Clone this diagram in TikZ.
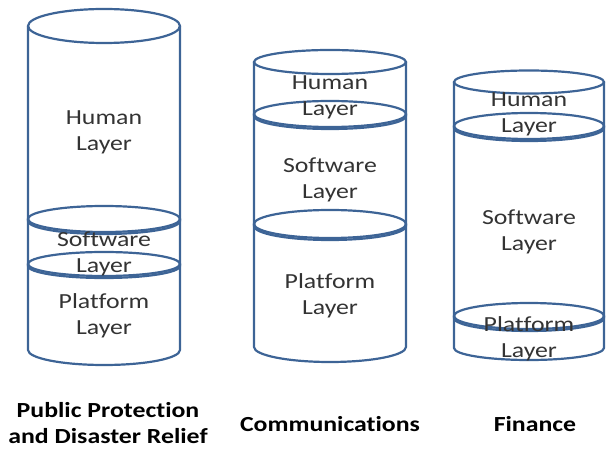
\documentclass[tikz,border=0pt]{standalone}
\usepackage{fontspec}
\setmainfont{Carlito}[FakeStretch=1.2, Ligatures=NoCommon]
\usepackage{tikz}
\definecolor{layerblue}{RGB}{61,100,150}
\tikzset{%
   layerline/.style={draw=layerblue, line width=2.2pt},
   layertext/.style={align=center, inner sep=0pt, text=black!80,
     font=\fontsize{21.5}{26}\selectfont},
   sector/.style={align=center, inner sep=0pt,
     font=\fontsize{21.5}{26}\selectfont\bfseries},
}
% one slice of a stack: cx, rx, top y, top ry, bottom y, bottom ry
\newcommand\layerpart[6]{%
  \draw[layerline] (#1,#3) ellipse [x radius=#2, y radius=#4];
  \draw[layerline] ({#1-#2},#3) -- ({#1-#2},#5)
    arc [start angle=180, end angle=360, x radius=#2, y radius=#6] -- ({#1+#2},#3);
}

\begin{document}
\begin{tikzpicture}[x=1pt, y=1pt]
      \useasboundingbox (0,0) rectangle (606,448);
      % public protection
      \layerpart{104}{76}{422}{17}{227}{13}
      \layerpart{104}{76}{229}{13}{182}{12}
      \layerpart{104}{76}{184}{12}{98}{15}
      \node[layertext] (h1) at (104,316) {Human\\Layer};
      \node[layertext] (s1) at (104,194) {Software\\Layer};
      \node[layertext] (p1) at (104,132) {Platform\\Layer};
      % communications
      \layerpart{330}{76}{386}{12}{332}{13}
      \layerpart{330}{76}{334}{13}{222}{14}
      \layerpart{330}{76}{224}{14}{101}{15}
      \node[layertext] (h2) at (330,351) {Human\\Layer};
      \node[layertext] (s2) at (330,268) {Software\\Layer};
      \node[layertext] (p2) at (330,152) {Platform\\Layer};
      % finance
      \layerpart{529}{75}{366}{11.5}{320}{13}
      \layerpart{529}{75}{322}{13}{130}{13}
      \layerpart{529}{75}{132}{13}{100}{12}
      \node[layertext] (h3) at (529,334) {Human\\Layer};
      \node[layertext] (s3) at (529,216) {Software\\Layer};
      \node[layertext] (p3) at (529,109) {Platform\\Layer};
      % sector names
      \node[sector] (ppdr) at (108,25) {Public Protection\\and Disaster Relief};
      \node[sector, anchor=base] (comm) at (330,17) {Communications};
      \node[sector, anchor=base] (fin) at (535,17) {Finance};
   \end{tikzpicture}
\end{document}
